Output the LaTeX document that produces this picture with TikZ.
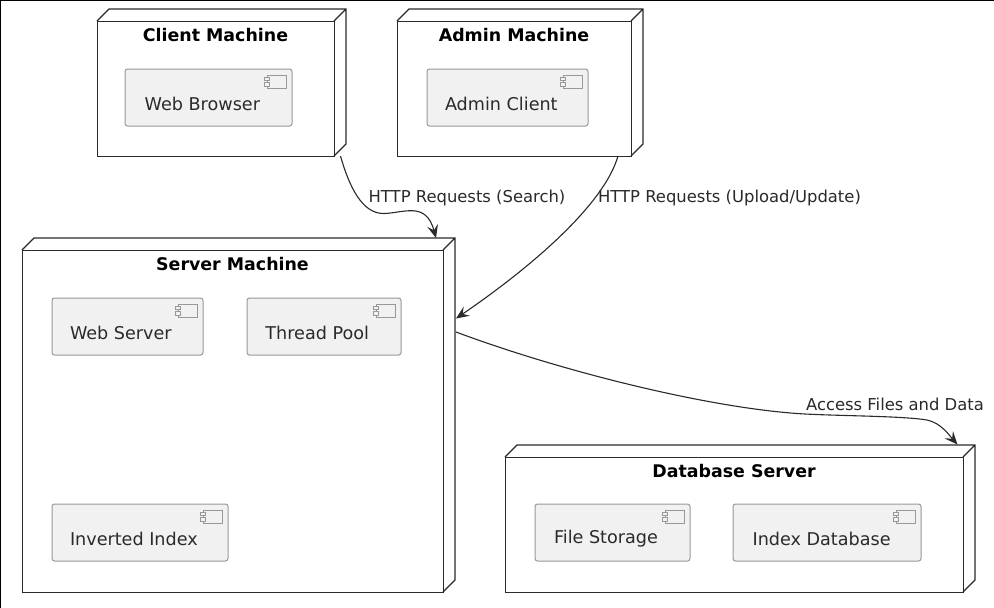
\documentclass[tikz,border=0pt]{standalone}
\usepackage{fontspec}
\setmainfont{DejaVu Sans}
\usetikzlibrary{arrows.meta,calc}
\definecolor{compfill}{HTML}{F1F1F1}
\definecolor{compline}{HTML}{989898}
\definecolor{ink}{HTML}{2A2A2A}
\tikzset{
  machinebox/.style={rectangle,inner sep=0pt,outer sep=0pt},
  machineedge/.style={draw=ink,line width=1.2pt,line join=miter},
  machinefront/.style={draw=ink,line width=0.8pt,line join=miter},
  machinetitle/.style={font=\fontsize{17.4}{20}\bfseries\selectfont,text=black,inner sep=0pt,anchor=center},
  compbox/.style={draw=compline,line width=1pt,fill=compfill,rectangle,rounded corners=2.5pt,inner sep=0pt,outer sep=0pt},
  complabel/.style={font=\fontsize{17.6}{20}\selectfont,text=ink,inner sep=0pt,anchor=west},
  compicon/.style={draw=compline,line width=.9pt,fill=compfill},
  flow/.style={draw=ink,line width=1.1pt,-{Stealth[length=13pt,width=11pt,inset=5pt]}},
  flowlabel/.style={font=\fontsize{16.4}{20}\selectfont,text=ink,inner sep=0pt,anchor=center},
}
% name, x1, y1, x2, y2, title
\newcommand{\machinenode}[6]{%
  \node[machinebox,minimum width={(#4-#2)*1pt},minimum height={(#5-#3)*1pt}] (#1) at ({(#2+#4)/2},{(#3+#5)/2}) {};
  \draw[machinefront] (#1.north west) -- (#1.north east) -- (#1.south east) -- (#1.south west) -- cycle;
  \draw[machineedge] (#1.north west) -- ++(12,-12) -- ([shift={(12,-12)}]#1.north east) -- ([shift={(12,-12)}]#1.south east) -- (#1.south east)
    (#1.north east) -- ([shift={(12,-12)}]#1.north east);
  \node[machinetitle] (#1title) at ({(#2+#4)/2},#3+14) {#6};
}
% name, x1, y1, x2, y2, label offset, label
\newcommand{\compnode}[7]{%
  \node[compbox,minimum width={(#4-#2)*1pt},minimum height={(#5-#3)*1pt}] (#1) at ({(#2+#4)/2},{(#3+#5)/2}) {};
  \node[complabel] (#1label) at (#2+#6,#3+34.6) {#7};
  \draw[compicon] ([shift={(-25,6)}]#1.north east) rectangle ([shift={(-6,19)}]#1.north east);
  \draw[compicon] ([shift={(-28,8)}]#1.north east) rectangle ([shift={(-23,11.5)}]#1.north east);
  \draw[compicon] ([shift={(-28,13.5)}]#1.north east) rectangle ([shift={(-23,17)}]#1.north east);
}
\begin{document}
\begin{tikzpicture}[x=1pt,y=-1pt]
\useasboundingbox (0,0) rectangle (994,608);
\fill[white] (0,0) rectangle (994,608);
\draw[black,line width=1.5pt] (0.5,608) -- (0.5,0.5) -- (994,0.5);

\machinenode{client}{97}{21}{334}{156}{Client Machine}
\machinenode{admin}{397}{21}{631}{156}{Admin Machine}
\machinenode{server}{22}{250}{443}{592}{Server Machine}
\machinenode{db}{505}{457}{963}{592}{Database Server}

\compnode{browser}{125}{69}{292}{126}{19.5}{Web Browser}
\compnode{adminclient}{427}{69}{588}{126}{17.8}{Admin Client}
\compnode{webserver}{52}{298}{203}{355}{17.8}{Web Server}
\compnode{threadpool}{247}{298}{401}{355}{18.2}{Thread Pool}
\compnode{invindex}{52}{504}{228}{561}{17.8}{Inverted Index}
\compnode{filestore}{535}{504}{690}{561}{18.8}{File Storage}
\compnode{indexdb}{733}{504}{921}{561}{19.4}{Index Database}

\draw[flow] ($(client.south east)+(6.5,0)$) .. controls ($(client.south east)+(15,30)$) and ($(client.south east)+(28,58)$) .. ($(client.south east)+(50,57.5)$)
  .. controls ($(client.south east)+(70,57)$) and ($(client.south east)+(92,45)$) .. ($(server.north west)+(414,-12)$);
\draw[flow] ($(admin.south east)+(-13,0)$) .. controls ($(admin.south east)+(-27,49)$) and ($(admin.south east)+(-101,112)$) .. ($(server.north east)+(13,68.5)$);
\draw[flow] ($(server.north east)+(13,82)$) .. controls ($(server.north east)+(120,122)$) and ($(server.north east)+(270,159)$) .. ($(server.north east)+(362,164)$)
  .. controls ($(server.north east)+(400,166)$) and ($(server.north east)+(460,166)$) .. ($(server.north east)+(484,170)$)
  .. controls ($(server.north east)+(498,173)$) and ($(server.north east)+(506,185)$) .. ($(db.north east)+(-5.5,-12.5)$);

\node[flowlabel] (lblsearch) at (467,198) {HTTP Requests (Search)};
\node[flowlabel] (lblupload) at (729.5,198) {HTTP Requests (Upload/Update)};
\node[flowlabel] (lblaccess) at (895,404) {Access Files and Data};
\end{tikzpicture}
\end{document}
